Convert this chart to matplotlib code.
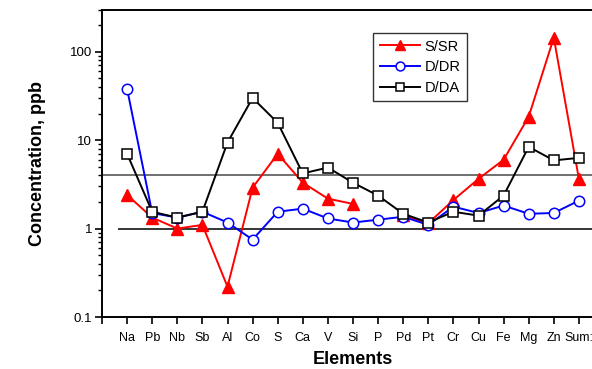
import numpy as np
import matplotlib
matplotlib.use('Agg')
import matplotlib.pyplot as plt
from matplotlib.ticker import LogLocator, FixedFormatter, FixedLocator, NullFormatter

plt.rcParams['font.family'] = ['Liberation Sans', 'DejaVu Sans']

elements = ['Na', 'Pb', 'Nb', 'Sb', 'Al', 'Co', 'S', 'Ca', 'V', 'Si',
            'P', 'Pd', 'Pt', 'Cr', 'Cu', 'Fe', 'Mg', 'Zn', 'Sum:']

# nan = no value for that element (line is broken there)
s_sr = [2.4, 1.33, 1.0, 1.1, 0.22, 2.9, 7.0, 3.3, 2.18, 1.9,
        np.nan, 1.42, 1.15, 2.1, 3.65, 6.0, 18.4, 144, 3.65]
d_dr = [38, 1.5, 1.33, 1.55, 1.17, 0.75, 1.55, 1.68, 1.3, 1.17,
        1.26, 1.36, 1.1, 1.77, 1.5, 1.82, 1.47, 1.5, 2.07]
d_da = [7.0, 1.55, 1.33, 1.55, 9.4, 30, 15.7, 4.2, 4.9, 3.3,
        2.36, 1.47, 1.17, 1.55, 1.4, 2.36, 8.4, 5.9, 6.3]

ref_high = 4.0
ref_low = 1.0

x = np.arange(1, len(elements) + 1)

fig = plt.figure(figsize=(5.92, 3.69), dpi=100)
ax = fig.add_axes([102 / 592, 52 / 369, 502 / 592, 307.5 / 369])

ax.axhline(ref_high, color='#707070', lw=1.4, zorder=1)
ax.hlines(ref_low, 0.64, 20, color='black', lw=1.1, zorder=1)

ax.plot(x, s_sr, color='red', lw=1.4, marker='^', ms=8.5,
        mfc='red', mec='red', label='S/SR', zorder=3)
ax.plot(x, d_dr, color='blue', lw=1.4, marker='o', ms=7.5,
        mfc='white', mec='blue', mew=1.1, label='D/DR', zorder=4)
ax.plot(x, d_da, color='black', lw=1.4, marker='s', ms=7.5,
        mfc='white', mec='black', mew=1.1, label='D/DA', zorder=5)

ax.set_yscale('log')
ax.set_ylim(0.1, 300)
ax.set_xlim(0, 20)

ax.yaxis.set_major_locator(FixedLocator([0.1, 1, 10, 100]))
ax.yaxis.set_major_formatter(FixedFormatter(['0.1', '1', '10', '100']))
ax.yaxis.set_minor_locator(LogLocator(base=10, subs=np.arange(2, 10)))
ax.yaxis.set_minor_formatter(NullFormatter())

ax.set_xticks(np.arange(0, 20))
ax.set_xticklabels([''] + elements, family=['Liberation Sans Narrow', 'Liberation Sans'],
                   fontsize=9, stretch='condensed')

ax.tick_params(axis='y', which='major', direction='out', length=5, width=1.2,
               labelsize=9.5, pad=2)
ax.tick_params(axis='y', which='minor', direction='out', length=3, width=1.0)
ax.tick_params(axis='x', which='major', direction='out', length=5, width=1.2, pad=6)

for side in ['left', 'bottom', 'top', 'right']:
    ax.spines[side].set_linewidth(1.4)

ax.set_xlabel('Elements', fontsize=13, fontweight='bold', labelpad=5)
ax.set_ylabel('Concentration, ppb', fontsize=13, fontweight='bold', labelpad=17)

leg = ax.legend(loc='upper left', bbox_to_anchor=((373 - 102) / 502, 1 - (33 - 9.5) / 307.5),
                fontsize=10.5, frameon=True, fancybox=False, edgecolor='black',
                handlelength=2.8, handletextpad=0.3, labelspacing=0.45,
                borderpad=0.45, markerscale=0.85, borderaxespad=0)
leg.get_frame().set_linewidth(1.0)

fig.savefig('out.png', dpi=100)
